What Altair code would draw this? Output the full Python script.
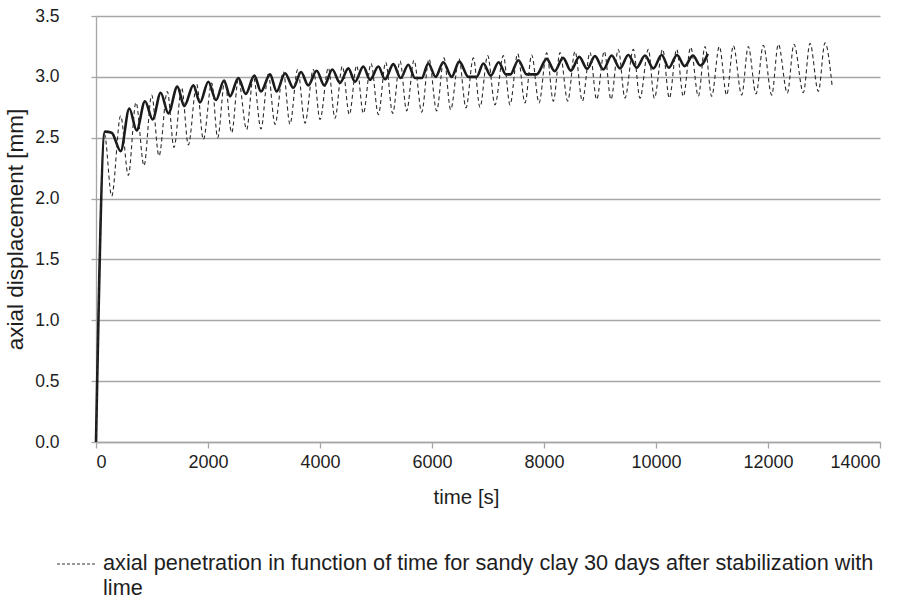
import altair as alt
import pandas as pd

# ---- data ----
solid_time = [0, 160, 280, 440, 595, 726, 875, 1012, 1155, 1292, 1452, 1577, 1738, 1857, 2006, 2143,
              2286, 2393, 2542, 2673, 2827, 2946, 3107, 3226, 3375, 3524, 3661, 3791, 3940, 4077,
              4220, 4357, 4506, 4625, 4774, 4893, 5042, 5161, 5310, 5440, 5577, 5696, 5816, 5934,
              6065, 6202, 6351, 6488, 6649, 6798, 6917, 7048, 7190, 7320, 7400, 7542, 7690, 7869,
              8048, 8190, 8340, 8480, 8630, 8770, 8910, 9059, 9208, 9357, 9506, 9655, 9804, 9952,
              10101, 10230, 10375, 10510, 10660, 10790, 10925]
solid_disp = [0.0, 2.55, 2.54, 2.39, 2.74, 2.56, 2.80, 2.65, 2.87, 2.70, 2.92, 2.76, 2.93, 2.79, 2.96, 2.81,
              2.97, 2.84, 2.99, 2.86, 3.01, 2.88, 3.02, 2.88, 3.03, 2.91, 3.04, 2.93, 3.05, 2.93,
              3.06, 2.95, 3.07, 2.96, 3.085, 2.975, 3.085, 2.98, 3.105, 2.99, 3.10, 2.99, 2.99, 3.11,
              3.00, 3.12, 3.00, 3.125, 3.00, 3.00, 3.11, 3.01, 3.12, 3.02, 3.02, 3.137, 3.02, 3.02,
              3.148, 3.047, 3.156, 3.05, 3.164, 3.066, 3.17, 3.06, 3.175, 3.07, 3.18, 3.075, 3.175, 3.07,
              3.18, 3.075, 3.18, 3.088, 3.175, 3.093, 3.19]

dashed_time = [0, 150, 280, 440, 577, 714, 857, 994, 1125, 1274, 1393, 1530, 1649, 1798, 1917, 2066,
               2173, 2300, 2423, 2542, 2690, 2810, 2946, 3077, 3196, 3345, 3464, 3601, 3732, 3881,
               4000, 4149, 4268, 4399, 4524, 4655, 4774, 4911, 5042, 5173, 5298, 5429, 5548, 5679,
               5816, 5946, 6083, 6214, 6333, 6482, 6607, 6738, 6857, 6994, 7125, 7274, 7393, 7530,
               7661, 7780, 7911, 8048, 8167, 8286, 8423, 8554, 8685, 8821, 8940, 9077, 9196, 9327,
               9446, 9595, 9714, 9863, 9970, 10119, 10238, 10369, 10488, 10619, 10756, 10875, 10994,
               11131, 11262, 11381, 11530, 11648, 11786, 11917, 12066, 12184, 12345, 12464, 12631,
               12750, 12899, 13018, 13149]
dashed_disp = [0.0, 2.53, 2.02, 2.68, 2.19, 2.79, 2.27, 2.85, 2.35, 2.88, 2.42, 2.91, 2.44, 2.94, 2.485, 2.95,
               2.50, 2.97, 2.54, 2.98, 2.567, 3.005, 2.573, 3.02, 2.61, 3.04, 2.61, 3.06, 2.62, 3.06,
               2.65, 3.074, 2.66, 3.088, 2.69, 3.093, 2.70, 3.11, 2.69, 3.12, 2.70, 3.13, 2.72, 3.137,
               2.71, 3.148, 2.72, 3.156, 2.73, 3.148, 2.745, 3.156, 2.75, 3.175, 2.77, 3.175, 2.77, 3.19,
               2.786, 3.18, 2.786, 3.197, 2.80, 3.20, 2.80, 3.21, 2.80, 3.20, 2.814, 3.21, 2.814, 3.225,
               2.825, 3.227, 2.825, 3.227, 2.825, 3.227, 2.825, 3.227, 2.84, 3.243, 2.84, 3.25, 2.84,
               3.25, 2.85, 3.257, 2.85, 3.25, 2.86, 3.26, 2.85, 3.268, 2.866, 3.268, 2.87,
               3.276, 2.88, 3.28, 2.91]

x_ticks = [0, 2000, 4000, 6000, 8000, 10000, 12000, 14000]
y_ticks = [0.0, 0.5, 1.0, 1.5, 2.0, 2.5, 3.0, 3.5]
x_title = "time [s]"
y_title = "axial displacement [mm]"
legend_lines = ["axial penetration in function of time for sandy clay 30 days after stabilization with",
                "lime"]

solid_df = pd.DataFrame({"t": solid_time, "d": solid_disp})
dashed_df = pd.DataFrame({"t": dashed_time, "d": dashed_disp})

W, H = 784, 426
GRID = "#a6a6a6"
FONT = "Liberation Sans, Arial, sans-serif"
TXT = "#1e1e1e"

x_enc = alt.X("t:Q", scale=alt.Scale(domain=[0, 14000], nice=False),
              axis=alt.Axis(values=x_ticks, format="d", title=x_title, grid=False,
                            tickSize=6, labelPadding=5, titleX=370, titleY=55,
                            titleBaseline="middle", titleAlign="center",
                            labelFont=FONT, labelFontSize=18, labelColor=TXT,
                            titleFont=FONT, titleFontSize=20.5, titleFontWeight="normal", titleColor=TXT))
y_enc = alt.Y("d:Q", scale=alt.Scale(domain=[0, 3.5], nice=False),
              axis=alt.Axis(values=y_ticks, format=".1f", title=y_title, grid=True,
                            tickSize=5, labelPadding=32, titleX=-81, titleY=213, titleAngle=270,
                            titleBaseline="middle", titleAlign="center",
                            labelFont=FONT, labelFontSize=17.5, labelColor=TXT,
                            titleFont=FONT, titleFontSize=22.5, titleFontWeight="normal", titleColor=TXT))

solid = alt.Chart(solid_df).mark_line(color="#1a1a1a", strokeWidth=2.6, interpolate="monotone").encode(
    x=x_enc, y=y_enc)
dashed = alt.Chart(dashed_df).mark_line(color="#2a2a2a", strokeWidth=1.1, strokeDash=[4, 3],
                                        interpolate="monotone").encode(x="t:Q", y="d:Q")

leg_df = pd.DataFrame({"label": ["\n".join(legend_lines)]})
leg_text = alt.Chart(leg_df).mark_text(align="left", baseline="middle", lineBreak="\n", lineHeight=25,
                                       font=FONT, fontSize=21.7, color=TXT).encode(
    text="label:N", x=alt.value(7), y=alt.value(547))
leg_line = alt.Chart(leg_df).mark_rule(color="#333333", strokeWidth=1, strokeDash=[3, 2]).encode(
    x=alt.value(-39), x2=alt.value(1), y=alt.value(548))

chart = alt.layer(solid, dashed, leg_text, leg_line).properties(
    width=W, height=H,
    background="white",
    autosize=alt.AutoSizeParams(type="none"),
    padding={"left": 96, "top": 16, "right": 33, "bottom": 157},
).configure_view(stroke=None).configure_axis(
    gridColor=GRID, gridWidth=1.3, domainColor=GRID, domainWidth=1.3, tickColor=GRID, tickWidth=1.3
)

chart.save("out.html", embed_options={"renderer": "svg", "actions": False})
